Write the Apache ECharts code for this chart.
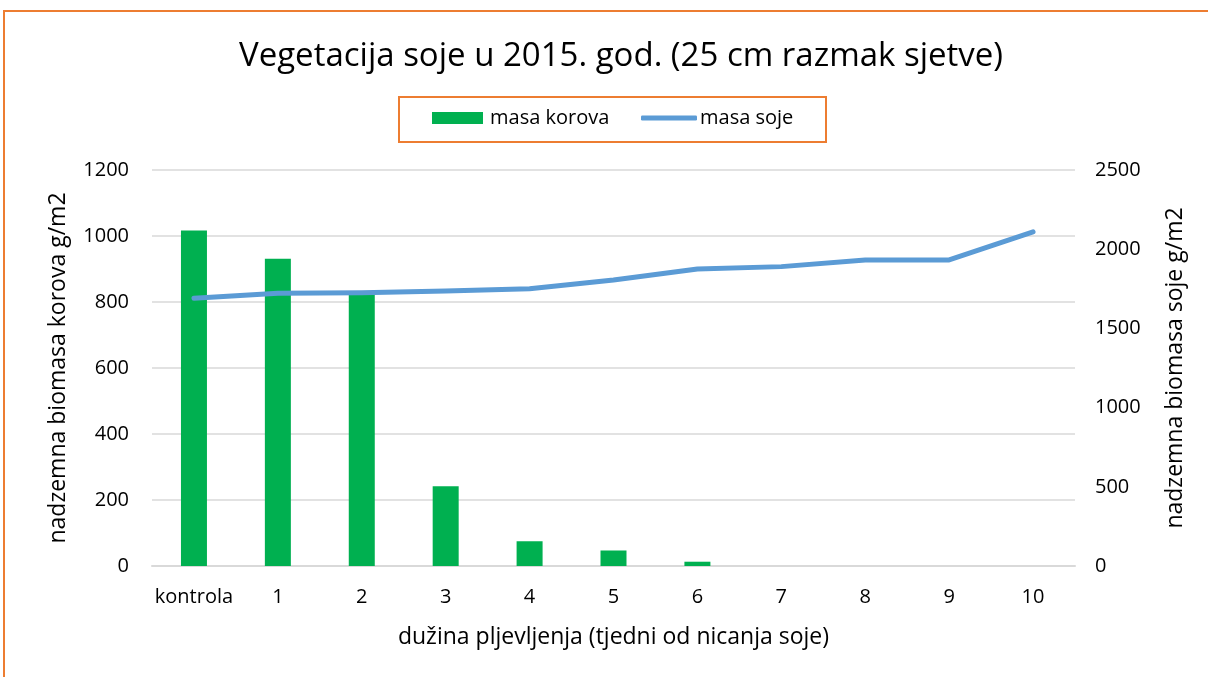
<!DOCTYPE html>
<html>
<head>
<meta charset="utf-8">
<script src="https://cdn.jsdelivr.net/npm/echarts@6/dist/echarts.min.js"></script>
<style>html,body{margin:0;padding:0;background:#fff}#c{width:1208px;height:677px}</style>
</head>
<body>
<div id="c"></div>
<script>
const categories = ['kontrola','1','2','3','4','5','6','7','8','9','10'];
const masaKorova = [1017, 931, 825, 242, 75, 47, 13, 0, 0, 0, 0];
const masaSoje = [1690, 1722, 1725, 1736, 1750, 1805, 1875, 1890, 1932, 1932, 2110];
const leftTicks = {min: 0, max: 1200, interval: 200};
const rightTicks = {min: 0, max: 2500, interval: 500};

const FONT = 'Open Sans';
const plain = v => String(v);
const chart = echarts.init(document.getElementById('c'), null, {renderer: 'canvas'});
chart.setOption({
  backgroundColor: '#fff',
  textStyle: {fontFamily: FONT, color: '#000'},
  animation: false,
  graphic: [{
    type: 'rect', shape: {x: 4, y: 11, width: 1400, height: 900},
    style: {fill: 'none', stroke: '#ED7D31', lineWidth: 2}, silent: true, z: -1
  }, {
    type: 'rect', shape: {x: 399, y: 97, width: 427, height: 45},
    style: {fill: 'none', stroke: '#ED7D31', lineWidth: 2}, silent: true, z: -1
  }],
  title: {
    text: 'Vegetacija soje u 2015. god. (25 cm razmak sjetve)',
    left: 234, top: 35,
    textStyle: {fontFamily: FONT, fontSize: 33, fontWeight: 'normal', color: '#000'}
  },
  legend: [{
    top: 108, left: 432, padding: 0,
    itemWidth: 51, itemHeight: 12, itemGap: 8,
    textStyle: {fontFamily: FONT, fontSize: 20, color: '#000', padding: [0, 0, 0, 2]},
    data: [{name: 'masa korova', icon: 'rect'}]
  }, {
    top: 108, left: 641, padding: 0,
    itemWidth: 56, itemHeight: 5,
    textStyle: {fontFamily: FONT, fontSize: 20, color: '#000', padding: [0, 0, 0, -2]},
    data: [{name: 'masa soje', icon: 'roundRect'}]
  }],
  grid: {left: 152, right: 133, top: 170, bottom: 111, containLabel: false},
  xAxis: {
    type: 'category', data: categories,
    name: 'dužina pljevljenja (tjedni od nicanja soje)',
    nameLocation: 'middle', nameGap: 60,
    nameTextStyle: {fontFamily: FONT, fontSize: 23, color: '#000'},
    axisLine: {lineStyle: {color: '#D9D9D9', width: 2}},
    axisTick: {show: false},
    axisLabel: {fontFamily: FONT, fontSize: 20, color: '#000', margin: 21, interval: 0},
    splitLine: {show: false}
  },
  yAxis: [{
    type: 'value', min: leftTicks.min, max: leftTicks.max, interval: leftTicks.interval,
    name: 'nadzemna biomasa korova g/m2', nameLocation: 'middle', nameGap: 82, nameRotate: 90,
    nameTextStyle: {fontFamily: FONT, fontSize: 23, color: '#000'},
    axisLine: {show: false}, axisTick: {show: false},
    axisLabel: {fontFamily: FONT, fontSize: 20, color: '#000', margin: 23, formatter: plain},
    splitLine: {lineStyle: {color: '#D9D9D9', width: 1.5}}
  }, {
    type: 'value', min: rightTicks.min, max: rightTicks.max, interval: rightTicks.interval,
    position: 'right',
    name: 'nadzemna biomasa soje g/m2', nameLocation: 'middle', nameGap: 89, nameRotate: 90,
    nameTextStyle: {fontFamily: FONT, fontSize: 23, color: '#000'},
    axisLine: {show: false}, axisTick: {show: false},
    axisLabel: {fontFamily: FONT, fontSize: 20, color: '#000', margin: 20, formatter: plain},
    splitLine: {show: false}
  }],
  series: [{
    name: 'masa korova', type: 'bar', yAxisIndex: 0, data: masaKorova,
    barWidth: 26, itemStyle: {color: '#00B050'}
  }, {
    name: 'masa soje', type: 'line', yAxisIndex: 1, data: masaSoje,
    symbol: 'none', showSymbol: false, smooth: false,
    lineStyle: {color: '#5B9BD5', width: 5, cap: 'round', join: 'round'},
    itemStyle: {color: '#5B9BD5'}, z: 3
  }]
});
</script>
</body>
</html>
